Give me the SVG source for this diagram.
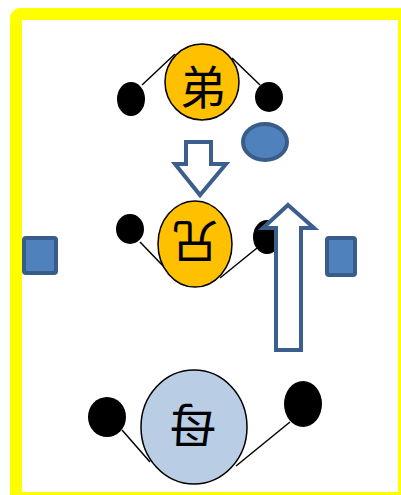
<svg xmlns="http://www.w3.org/2000/svg" width="401" height="495" viewBox="0 0 401 495">
<style>
.dot{fill:#000}
.ln{stroke:#000;stroke-width:1.5;fill:none}
.big{stroke:#000;stroke-width:1.5}
.blue{fill:#4F81BD;stroke:#385D8A;stroke-width:4}
.arr{fill:#fff;stroke:#3B5E8C;stroke-width:4;stroke-linejoin:miter}
.t{font-family:"Noto Sans CJK SC","Noto Sans CJK JP",sans-serif;text-anchor:middle;fill:#000}
</style>
<rect width="401" height="495" fill="#fff"/>
<rect id="frame" x="16" y="14" width="388" height="484" rx="4" fill="none" stroke="#FFFF00" stroke-width="12"/>
<g id="connectors">
<line class="ln" x1="142" y1="85" x2="175" y2="54"/>
<line class="ln" x1="232" y1="58" x2="260" y2="85"/>
<line class="ln" x1="140" y1="242" x2="166" y2="269"/>
<line class="ln" x1="257" y1="248" x2="220" y2="278"/>
<line class="ln" x1="122" y1="430" x2="150" y2="462"/>
<line class="ln" x1="290" y1="422" x2="236" y2="466"/>
</g>
<g id="node-di">
<ellipse class="big" cx="202" cy="82" rx="37" ry="38" fill="#FFC000"/>
<text class="t" x="203" y="104" font-size="46">弟</text>
</g>
<g id="dot-di-left"><ellipse class="dot" cx="131" cy="99" rx="14" ry="17"/></g>
<g id="dot-di-right"><ellipse class="dot" cx="269" cy="97" rx="14" ry="15"/></g>
<g id="blue-oval"><ellipse class="blue" cx="265" cy="142" rx="22" ry="18"/></g>
<g id="arrow-down"><polygon class="arr" points="186,142 211,142 211,164 226,164 200,195 175,164 186,164"/></g>
<g id="node-xiong">
<ellipse class="big" cx="195" cy="244" rx="37" ry="43" fill="#FFC000"/>
<text class="t" x="195" y="259" font-size="46" transform="rotate(180 195 242)">兄</text>
</g>
<g id="dot-xiong-left"><ellipse class="dot" cx="130" cy="229" rx="14" ry="15"/></g>
<g id="dot-xiong-right"><ellipse class="dot" cx="267" cy="237" rx="14" ry="17"/></g>
<g id="arrow-up"><polygon class="arr" points="288,205 314,228 301,228 301,350 276,350 276,228 263,228"/></g>
<g id="square-left"><rect class="blue" x="24" y="238" width="32" height="35" rx="2"/></g>
<g id="square-right"><rect class="blue" x="327" y="238" width="28" height="37" rx="2"/></g>
<g id="node-mu">
<ellipse class="big" cx="194" cy="427" rx="53" ry="57" fill="#B9CDE5"/>
<text class="t" x="193" y="444" font-size="48" transform="rotate(180 193 426)">母</text>
</g>
<g id="dot-mu-left"><ellipse class="dot" cx="107" cy="417" rx="19" ry="20"/></g>
<g id="dot-mu-right"><ellipse class="dot" cx="303" cy="404" rx="19" ry="23"/></g>
</svg>
